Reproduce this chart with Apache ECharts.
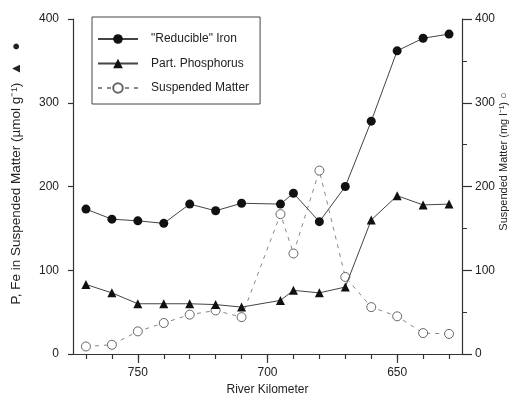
<!DOCTYPE html>
<html>
<head>
<meta charset="utf-8">
<script src="https://cdn.jsdelivr.net/npm/echarts@6/dist/echarts.min.js"></script>
<style>
  html, body { margin: 0; padding: 0; background: #fff; }
  #chart { width: 513px; height: 399px; }
</style>
</head>
<body>
<div id="chart"></div>
<script>
// River kilometre of each sampling station (downstream to the right)
const riverKm = [770, 760, 750, 740, 730, 720, 710, 695, 690, 680, 670, 660, 650, 640, 630];
// "Reducible" iron in suspended matter, µmol/g
const reducibleIron = [173, 161, 159, 156, 179, 171, 180, 179, 192, 158, 200, 278, 362, 377, 382];
// Particulate phosphorus, µmol/g
const partPhosphorus = [83, 73, 60, 60, 60, 59, 56, 64, 76, 73, 80, 160, 189, 178, 179];
// Suspended matter, mg/l (right axis)
const suspendedMatter = [9, 11, 27, 37, 47, 52, 44, 167, 120, 219, 92, 56, 45, 25, 24];

// Axis tick positions
const kmMinorTicks = [630, 640, 650, 660, 670, 680, 690, 700, 710, 720, 730, 740, 750, 760, 770];
const kmMajorTicks = [650, 700, 750];

const pairs = (xs, ys) => xs.map((x, i) => [x, ys[i]]);

const FONT = 'Liberation Sans, Arial, sans-serif';
const AXIS_COLOR = '#333';
const TEXT_COLOR = '#222';

const chart = echarts.init(document.getElementById('chart'), null, { renderer: 'canvas' });

const baseX = {
  type: 'value',
  min: 625,
  max: 775,
  inverse: true,
  position: 'bottom',
  splitLine: { show: false },
  axisLine: { show: true, lineStyle: { color: AXIS_COLOR, width: 1.2 } }
};

chart.setOption({
  animation: false,
  backgroundColor: '#fff',
  grid: { left: 73, right: 51, top: 19, bottom: 45, containLabel: false, outerBoundsMode: 'none' },
  legend: {
    left: 92,
    top: 17,
    orient: 'vertical',
    itemWidth: 40,
    itemHeight: 12,
    itemGap: 12.5,
    padding: [16, 11, 10, 5],
    borderColor: '#444',
    borderWidth: 1,
    backgroundColor: '#fff',
    textStyle: { fontFamily: FONT, fontSize: 12, color: TEXT_COLOR, padding: [0, 0, 0, 8] },
    data: ['"Reducible" Iron', 'Part. Phosphorus', 'Suspended Matter']
  },
  xAxis: [
    Object.assign({}, baseX, {
      axisTick: { show: true, inside: false, length: 5, customValues: kmMinorTicks,
                  lineStyle: { color: AXIS_COLOR, width: 1.2 } },
      axisLabel: { show: false }
    }),
    Object.assign({}, baseX, {
      name: 'River Kilometer',
      nameLocation: 'middle',
      nameGap: 29,
      nameTextStyle: { fontFamily: FONT, fontSize: 12, color: TEXT_COLOR },
      axisTick: { show: true, inside: false, length: 9, customValues: kmMajorTicks,
                  lineStyle: { color: AXIS_COLOR, width: 1.2 } },
      axisLabel: { show: true, customValues: kmMajorTicks, margin: 13,
                   fontFamily: FONT, fontSize: 12, color: TEXT_COLOR }
    })
  ],
  yAxis: [
    {
      type: 'value',
      min: 0,
      max: 400,
      interval: 100,
      position: 'left',
      name: 'P, Fe in Suspended Matter (µmol g⁻¹)  ▲   ●',
      nameLocation: 'middle',
      nameRotate: 90,
      nameGap: 50,
      nameMoveOverlap: false,
      nameTextStyle: { fontFamily: FONT, fontSize: 13.5, color: TEXT_COLOR, padding: [0, 0, 0, 26] },
      splitLine: { show: false },
      axisLine: { show: true, lineStyle: { color: AXIS_COLOR, width: 1.2 } },
      axisTick: { show: true, inside: false, length: 5, lineStyle: { color: AXIS_COLOR, width: 1.2 } },
      axisLabel: { margin: 14, fontFamily: FONT, fontSize: 12, color: TEXT_COLOR }
    },
    {
      type: 'value',
      min: 0,
      max: 400,
      interval: 100,
      position: 'right',
      name: 'Suspended Matter (mg l⁻¹) ○',
      nameLocation: 'middle',
      nameRotate: 90,
      nameGap: 36,
      nameMoveOverlap: false,
      nameTextStyle: { fontFamily: FONT, fontSize: 11, color: TEXT_COLOR, padding: [0, 0, 0, 50] },
      splitLine: { show: false },
      axisLine: { show: true, lineStyle: { color: AXIS_COLOR, width: 1.2 } },
      axisTick: { show: true, inside: false, length: 10, lineStyle: { color: AXIS_COLOR, width: 1.2 } },
      minorTick: { show: true, splitNumber: 2, length: 5, lineStyle: { color: AXIS_COLOR, width: 1 } },
      axisLabel: { margin: 13, fontFamily: FONT, fontSize: 12, color: TEXT_COLOR }
    }
  ],
  series: [
    {
      name: 'Suspended Matter',
      type: 'line',
      xAxisIndex: 0,
      yAxisIndex: 1,
      data: pairs(riverKm, suspendedMatter),
      symbol: 'circle',
      symbolSize: 9,
      itemStyle: { color: '#fff', borderColor: '#666', borderWidth: 1 },
      lineStyle: { color: '#888', width: 1, type: [4, 5] },
      z: 2
    },
    {
      name: '"Reducible" Iron',
      type: 'line',
      xAxisIndex: 0,
      yAxisIndex: 0,
      data: pairs(riverKm, reducibleIron),
      symbol: 'circle',
      symbolSize: 9,
      itemStyle: { color: '#111' },
      lineStyle: { color: '#444', width: 1 },
      z: 3
    },
    {
      name: 'Part. Phosphorus',
      type: 'line',
      xAxisIndex: 0,
      yAxisIndex: 0,
      data: pairs(riverKm, partPhosphorus),
      symbol: 'triangle',
      symbolSize: 9,
      itemStyle: { color: '#111' },
      lineStyle: { color: '#444', width: 1 },
      z: 3
    }
  ]
});
</script>
</body>
</html>
